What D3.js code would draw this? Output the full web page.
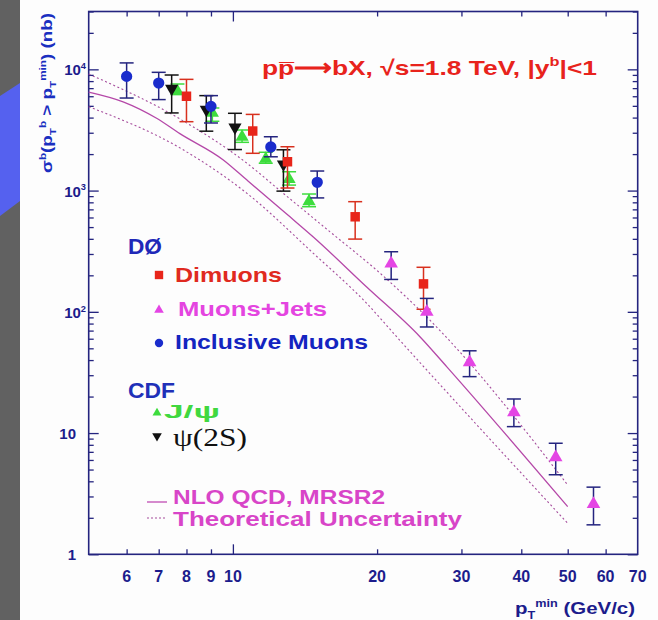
<!DOCTYPE html>
<html>
<head>
<meta charset="utf-8">
<script src="https://cdn.jsdelivr.net/npm/d3@7"></script>
<style>
body { margin: 0; background: #fff; }
svg { display: block; }
text { font-family: "Liberation Sans", Arial, sans-serif; font-weight: bold; }
</style>
</head>
<body>
<div id="chart"></div>
<script>
// D0 dimuons
const dimuonX  = [8, 11, 13, 18, 25];
const dimuonY  = [6000, 3100, 1730, 608, 170];
const dimuonHi = [8270, 4250, 2300, 810, 233];
const dimuonLo = [3700, 2030, 1050, 398, 105];

// D0 muons + jets
const mujetX  = [21.4, 25.4, 31.2, 38.6, 47.2, 56.6];
const mujetY  = [250, 100, 38.3, 14.8, 6.3, 2.6];
const mujetHi = [313, 129, 47.7, 19.1, 8.24, 3.58];
const mujetLo = [185, 75, 29.2, 11.3, 4.53, 1.75];

// D0 inclusive muons
const inclX  = [6, 7, 9, 12, 15];
const inclY  = [8750, 7700, 4950, 2290, 1170];
const inclHi = [11300, 9450, 6070, 2780, 1450];
const inclLo = [5800, 5630, 3610, 1900, 870];

// CDF J/psi
const jpsiX  = [7.66, 9.06, 10.45, 11.71, 13.1, 14.42];
const jpsiY  = [6590, 4370, 2770, 1825, 1240, 815];
const jpsiHi = [7570, 4800, 3160, 2070, 1430, 937];
const jpsiLo = [6190, 3730, 2500, 1680, 1110, 736];

// CDF psi(2S)
const psi2sX  = [7.45, 8.8, 10.1, 12.75];
const psi2sY  = [6940, 4660, 3320, 1650];
const psi2sHi = [8980, 6070, 4340, 2170];
const psi2sLo = [4370, 3090, 2180, 990];

// NLO QCD curve and uncertainty band
const nloX = [5, 5.9, 6.93, 7.75, 9.55, 10.7, 12.95, 14.7, 19, 24.6, 28, 50];
const nloY = [6500, 5400, 3950, 2950, 1790, 1220, 640, 416, 161, 62, 35, 2.47];
const upperX = [5, 7.75, 10.7, 12.54, 15.95, 20.27, 26.2, 50];
const upperY = [9140, 3900, 1680, 1000, 457, 209, 80, 3.73];
const lowerX = [5, 7.75, 10.7, 14.72, 19.02, 21.97, 50];
const lowerY = [4920, 2250, 949, 304, 117.5, 62.3, 1.8];

// axes
const xTickLabels = [6, 7, 8, 9, 10, 20, 30, 40, 50, 60, 70];
const xMinorTicks = [6, 7, 8, 9, 20, 30, 40, 50, 60];
const xMajorTicks = [10];
const yMajorTicks = [1, 10, 100, 1000, 10000];
const yTickLabels = [["1", ""], ["10", ""], ["10", "2"], ["10", "3"], ["10", "4"]];

const W = 658, H = 620;
const navy = "#24247f";

const svg = d3.select("#chart").append("svg")
    .attr("width", W)
    .attr("height", H);

// slide background
svg.append("rect").attr("width", W).attr("height", H).attr("fill", "#fdfdfd");
svg.append("rect").attr("width", 20).attr("height", H).attr("fill", "#616161");
svg.append("polygon").attr("points", "0,96 20,83 20,201 0,216").attr("fill", "#5561ef");

const x = d3.scaleLog().domain([5, 70]).range([88.7, 637.7]);
const y = d3.scaleLog().domain([1, 3e4]).range([554.3, 11.5]);

const yMinorTicks = [];
yMajorTicks.forEach(d => {
    for (let k = 2; k <= 9; k++) if (d * k <= 3e4) yMinorTicks.push(d * k);
});

function ticks(axis, transform) {
    svg.append("g")
        .attr("transform", transform)
        .call(axis.tickFormat(""))
        .call(g => g.select(".domain").remove())
        .call(g => g.selectAll("line").attr("stroke", navy).attr("stroke-width", 1.3));
}

ticks(d3.axisBottom(x).tickValues(xMinorTicks).tickSize(-5), `translate(0,${y(1)})`);
ticks(d3.axisBottom(x).tickValues(xMajorTicks).tickSize(-10), `translate(0,${y(1)})`);
ticks(d3.axisTop(x).tickValues(xMinorTicks).tickSize(-5), `translate(0,${y(3e4)})`);
ticks(d3.axisTop(x).tickValues(xMajorTicks).tickSize(-10), `translate(0,${y(3e4)})`);
ticks(d3.axisLeft(y).tickValues(yMinorTicks).tickSize(-5), `translate(${x(5)},0)`);
ticks(d3.axisLeft(y).tickValues(yMajorTicks).tickSize(-10), `translate(${x(5)},0)`);
ticks(d3.axisRight(y).tickValues(yMinorTicks).tickSize(-5), `translate(${x(70)},0)`);
ticks(d3.axisRight(y).tickValues(yMajorTicks).tickSize(-10), `translate(${x(70)},0)`);

svg.append("rect")
    .attr("x", x(5)).attr("y", y(3e4))
    .attr("width", x(70) - x(5)).attr("height", y(1) - y(3e4))
    .attr("fill", "none").attr("stroke", navy).attr("stroke-width", 1.6);

// rich text with super/subscripts
function rich(text, parts, fs) {
    let cur = 0;
    parts.forEach(p => {
        const target = p.s === "sup" ? -fs * 0.42 : p.s === "sub" ? fs * 0.28 : 0;
        const t = text.append("tspan").text(p.t).attr("dy", target - cur);
        if (p.s) t.attr("font-size", fs * 0.62);
        cur = target;
    });
    return text;
}

// tick labels
svg.append("g").selectAll("text")
    .data(xTickLabels)
    .enter().append("text")
    .attr("x", d => x(d))
    .attr("y", 582)
    .attr("text-anchor", "middle")
    .attr("font-size", 16)
    .attr("fill", "#1c1c8c")
    .text(d => d);

yTickLabels.forEach((lab, i) => {
    const t = svg.append("text")
        .attr("x", lab[1] ? 86 : 76)
        .attr("y", y(yMajorTicks[i]) + 6)
        .attr("text-anchor", "end")
        .attr("font-size", 15)
        .attr("fill", "#1c1c8c");
    rich(t, lab[1] ? [{t: lab[0]}, {t: lab[1], s: "sup"}] : [{t: lab[0]}], 15);
});

// axis titles
const yl = svg.append("text")
    .attr("transform", "translate(52,93) rotate(-90)")
    .attr("text-anchor", "middle")
    .attr("font-size", 15)
    .attr("fill", "#1a2fc0")
    .attr("textLength", 160)
    .attr("lengthAdjust", "spacingAndGlyphs");
rich(yl, [{t: "σ"}, {t: "b", s: "sup"}, {t: "(p"}, {t: "T", s: "sub"}, {t: "b", s: "sup"},
          {t: " > p"}, {t: "T", s: "sub"}, {t: "min", s: "sup"}, {t: ") (nb)"}], 15);

const xl = svg.append("text")
    .attr("x", 515).attr("y", 614)
    .attr("font-size", 17)
    .attr("fill", "#1c1c8c")
    .attr("textLength", 120)
    .attr("lengthAdjust", "spacingAndGlyphs");
rich(xl, [{t: "p"}, {t: "T", s: "sub"}, {t: "min", s: "sup"}, {t: " (GeV/c)"}], 17);

const title = svg.append("text")
    .attr("x", 262).attr("y", 75)
    .attr("font-size", 21)
    .attr("fill", "#e8231c")
    .attr("textLength", 335)
    .attr("lengthAdjust", "spacingAndGlyphs");
rich(title, [{t: "pp\u0305\u27F6bX,  √s=1.8 TeV,  |y"}, {t: "b", s: "sup"}, {t: "|<1"}], 21);

// theory curves
const line = d3.line()
    .x(d => x(d[0]))
    .y(d => y(d[1]))
    .curve(d3.curveMonotoneX);

svg.append("path")
    .attr("d", line(d3.zip(upperX, upperY)))
    .attr("fill", "none").attr("stroke", "#a54c9c").attr("stroke-width", 1.1)
    .attr("stroke-dasharray", "2,2.5");
svg.append("path")
    .attr("d", line(d3.zip(lowerX, lowerY)))
    .attr("fill", "none").attr("stroke", "#a54c9c").attr("stroke-width", 1.1)
    .attr("stroke-dasharray", "2,2.5");
svg.append("path")
    .attr("d", line(d3.zip(nloX, nloY)))
    .attr("fill", "none").attr("stroke", "#b548a8").attr("stroke-width", 1.3);

// data series
function drawSeries(xs, ys, his, los, opt) {
    const data = xs.map((v, i) => ({x: v, y: ys[i], hi: his[i], lo: los[i]}));
    const g = svg.append("g");
    const bars = g.selectAll(".err").data(data).enter().append("g")
        .attr("stroke", opt.err).attr("stroke-width", 1.5);
    bars.append("line")
        .attr("x1", d => x(d.x)).attr("x2", d => x(d.x))
        .attr("y1", d => y(d.hi)).attr("y2", d => y(d.lo));
    ["hi", "lo"].forEach(k => {
        bars.append("line")
            .attr("x1", d => x(d.x) - 7).attr("x2", d => x(d.x) + 7)
            .attr("y1", d => y(d[k])).attr("y2", d => y(d[k]));
    });
    g.selectAll(".pt").data(data).enter().append("path")
        .attr("d", d3.symbol(opt.symbol, opt.size))
        .attr("transform", d => `translate(${x(d.x)},${y(d.y)})${opt.flip ? " rotate(180)" : ""}`)
        .attr("fill", opt.color);
}

drawSeries(jpsiX, jpsiY, jpsiHi, jpsiLo, {symbol: d3.symbolTriangle, size: 75, color: "#3ddc3d", err: "#3ddc3d"});
drawSeries(psi2sX, psi2sY, psi2sHi, psi2sLo, {symbol: d3.symbolTriangle, size: 75, color: "#111", err: "#111", flip: true});
drawSeries(inclX, inclY, inclHi, inclLo, {symbol: d3.symbolCircle, size: 100, color: "#1a2ccc", err: "#24247f"});
drawSeries(dimuonX, dimuonY, dimuonHi, dimuonLo, {symbol: d3.symbolSquare, size: 90, color: "#e8251a", err: "#d8301e"});
drawSeries(mujetX, mujetY, mujetHi, mujetLo, {symbol: d3.symbolTriangle, size: 80, color: "#e445e4", err: "#24247f"});

// legend
function label(txt, lx, ly, fs, color, len, family) {
    const t = svg.append("text")
        .attr("x", lx).attr("y", ly)
        .attr("font-size", fs)
        .attr("fill", color)
        .attr("textLength", len)
        .attr("lengthAdjust", "spacingAndGlyphs")
        .text(txt);
    if (family) t.style("font-family", family);
    return t;
}
function marker(symbol, size, color, mx, my, flip) {
    svg.append("path")
        .attr("d", d3.symbol(symbol, size))
        .attr("transform", `translate(${mx},${my})${flip ? " rotate(180)" : ""}`)
        .attr("fill", color);
}

label("DØ", 128, 254, 22, "#2028b8", 34);
marker(d3.symbolSquare, 70, "#e8251a", 159, 275);
label("Dimuons", 175, 282, 21, "#e02a20", 107);
marker(d3.symbolTriangle, 40, "#e445e4", 159, 310);
label("Muons+Jets", 178, 316, 21, "#e445e0", 149);
marker(d3.symbolCircle, 55, "#1a2ccc", 159, 343);
label("Inclusive Muons", 175, 349, 21, "#1424c0", 193);

label("CDF", 128, 398, 22, "#2030b8", 47);
marker(d3.symbolTriangle, 35, "#3ddc3d", 157, 413);
label("J/ψ", 164, 418, 18, "#40d840", 56);
marker(d3.symbolTriangle, 40, "#111", 157, 436, true);
label("ψ(2S)", 173, 446, 25, "#111", 74, "'Liberation Serif', serif").style("font-weight", "normal");

svg.append("line").attr("x1", 147).attr("x2", 167).attr("y1", 502).attr("y2", 502)
    .attr("stroke", "#c04cb4").attr("stroke-width", 1.3);
label("NLO QCD, MRSR2", 173, 504, 20, "#d845c8", 212);
svg.append("line").attr("x1", 147).attr("x2", 167).attr("y1", 518).attr("y2", 518)
    .attr("stroke", "#a54c9c").attr("stroke-width", 1.1).attr("stroke-dasharray", "2,2");
label("Theoretical Uncertainty", 173, 526, 20, "#d845c8", 289);
</script>
</body>
</html>
